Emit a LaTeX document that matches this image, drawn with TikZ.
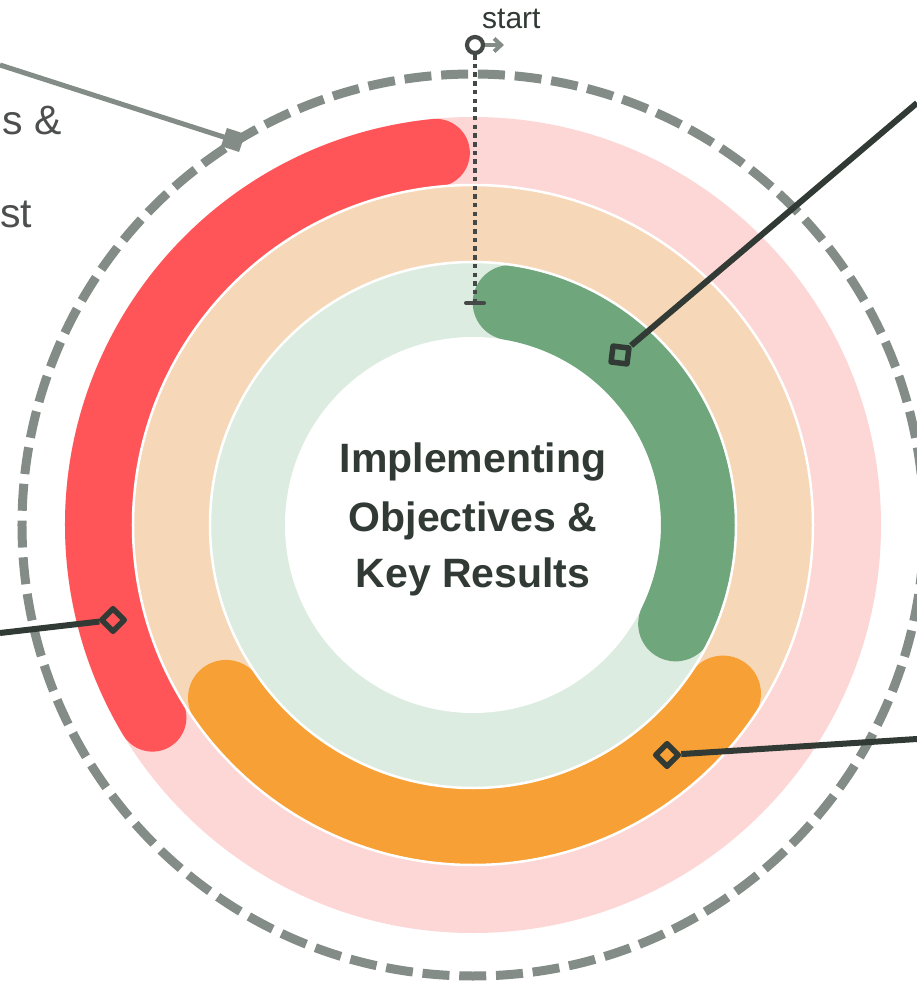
\documentclass[tikz,border=0pt]{standalone}
\usepackage{fontspec}
\setmainfont{Liberation Sans}
\usetikzlibrary{arrows.meta}
\definecolor{pinkl}{HTML}{FDD6D6}
\definecolor{redc}{HTML}{FF5558}
\definecolor{peach}{HTML}{F6D8B8}
\definecolor{orangec}{HTML}{F7A035}
\definecolor{lgreen}{HTML}{DDECE0}
\definecolor{greenc}{HTML}{6FA67B}
\definecolor{dashgray}{HTML}{838C86}
\definecolor{darkc}{HTML}{313A34}
\definecolor{dotgray}{HTML}{444846}
\definecolor{labelgray}{HTML}{4D4F4E}
\tikzset{
  x=1pt, y=1pt,
  band/.style={line width=#1, line cap=round},
  sepline/.style={white, line width=2.5pt},
  leaderdark/.style={darkc, line width=6pt},
  leadergray/.style={dashgray, line width=5pt},
  hollowmark/.style={draw=darkc, line width=5.5pt, rectangle, minimum size=16pt, inner sep=0pt, line join=round},
  filledmark/.style={fill=dashgray, rectangle, minimum size=19pt, inner sep=0pt},
  titletext/.style={font=\fontsize{41}{49}\selectfont\bfseries, text=darkc, anchor=base, inner sep=0pt},
  sidetext/.style={font=\fontsize{41}{49}\selectfont, text=labelgray, anchor=base west, inner sep=0pt},
}
\begin{document}
\begin{tikzpicture}
\clip (-473,-459) rectangle (444,525);
\fill[white] (-473,-459) rectangle (444,525);

% rings
\fill[pinkl] (0,0) circle[radius=408];
\fill[peach] (0,0) circle[radius=340];
\fill[lgreen] (0,0) circle[radius=263];
\fill[white] (0,0) circle[radius=188];

% arcs
\draw[band=68pt, redc] (95.7:374) arc[start angle=95.7, end angle=211, radius=374];
\draw[band=76pt, orangec] (215:301.5) arc[start angle=215, end angle=326, radius=301.5];
\draw[band=75pt, greenc] (80.5:225.5) arc[start angle=80.5, end angle=-26, radius=225.5];

% separators
\draw[sepline] (0,0) circle[radius=340];
\draw[sepline] (0,0) circle[radius=263];

% dashed outer circle
\draw[dashgray, line width=9pt, dash pattern=on 27pt off 9.8pt, dash phase=22.6pt] (0,0) circle[radius=451];

% start marker
\node[circle, draw=dotgray, line width=4.2pt, minimum size=16pt, inner sep=0pt, fill=white] (s0) at (2,480) {};
\coordinate (sarrow) at (31,480);
\draw[dashgray, line width=4pt, -{Straight Barb[length=7pt, width=13pt]}] (s0) -- (sarrow);
\node[font=\fontsize{30}{36}\selectfont, text=darkc, anchor=base west, inner sep=0pt] (starttext) at (9,496) {start};
\coordinate (dotend) at (2,223);
\coordinate (tickl) at (-7,222);
\coordinate (tickr) at (11,222);
\draw[dotgray, line width=4pt, dash pattern=on 4.5pt off 4.2pt] (s0.south) -- (dotend);
\draw[dotgray, line width=4pt, line cap=round] (tickl) -- (tickr);

% center title
\node[titletext] (t1) at (0,52) {Implementing};
\node[titletext] (t2) at (0,-7) {Objectives \&};
\node[titletext] (t3) at (0,-63) {Key Results};

% side labels (clipped)
\node[sidetext] (l1) at (-471,390) {s \&};
\node[sidetext] (l2) at (-473,297) {st};

% leaders
\coordinate (c1) at (-473,460);
\node[filledmark, rotate=-18] (m1) at (-240,385) {};
\draw[leadergray] (c1) -- (m1.center);

\coordinate (c2) at (444,422);
\node[hollowmark, rotate=-7] (m2) at (147,170) {};
\draw[leaderdark] (c2) -- (m2);

\coordinate (c3) at (-473,-108);
\node[hollowmark, rotate=45] (m3) at (-360,-95) {};
\draw[leaderdark] (c3) -- (m3);

\coordinate (c4) at (444,-214);
\node[hollowmark, rotate=45] (m4) at (194,-230) {};
\draw[leaderdark] (c4) -- (m4);
\end{tikzpicture}
\end{document}
